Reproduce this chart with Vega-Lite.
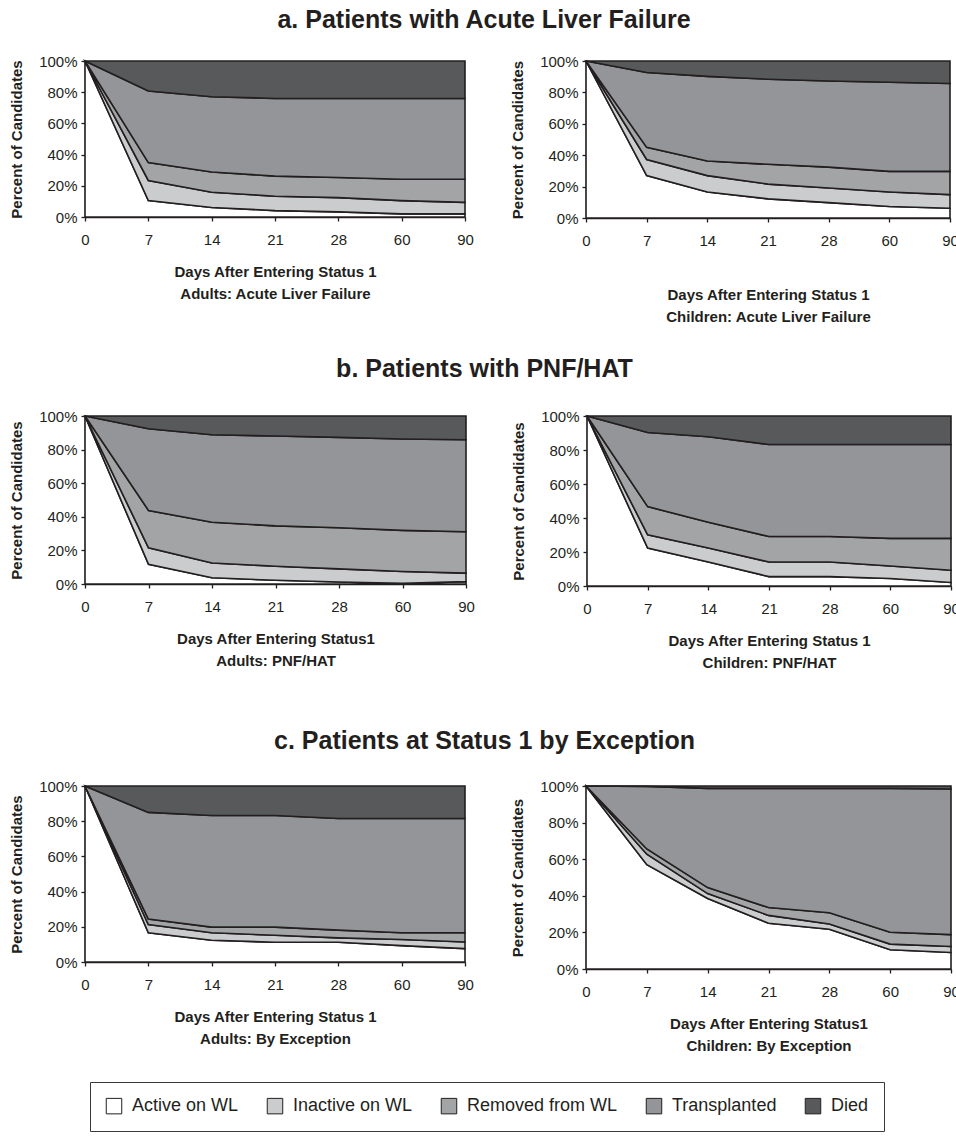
{
  "$schema": "https://vega.github.io/schema/vega-lite/v6.json",
  "background": "white",
  "padding": {"left": 9, "top": 8, "right": 0, "bottom": 0},
  "datasets": {
    "rows": [
      {"panel":"A1","day":0,"status":"Active on WL","k":1,"pct":100},
      {"panel":"A1","day":7,"status":"Active on WL","k":1,"pct":10.5},
      {"panel":"A1","day":14,"status":"Active on WL","k":1,"pct":6.1},
      {"panel":"A1","day":21,"status":"Active on WL","k":1,"pct":4.1},
      {"panel":"A1","day":28,"status":"Active on WL","k":1,"pct":3.3},
      {"panel":"A1","day":60,"status":"Active on WL","k":1,"pct":2.0},
      {"panel":"A1","day":90,"status":"Active on WL","k":1,"pct":2.0},
      {"panel":"A1","day":0,"status":"Inactive on WL","k":2,"pct":0},
      {"panel":"A1","day":7,"status":"Inactive on WL","k":2,"pct":12.9},
      {"panel":"A1","day":14,"status":"Inactive on WL","k":2,"pct":9.8},
      {"panel":"A1","day":21,"status":"Inactive on WL","k":2,"pct":9.2},
      {"panel":"A1","day":28,"status":"Inactive on WL","k":2,"pct":9.1},
      {"panel":"A1","day":60,"status":"Inactive on WL","k":2,"pct":8.5},
      {"panel":"A1","day":90,"status":"Inactive on WL","k":2,"pct":7.4},
      {"panel":"A1","day":0,"status":"Removed from WL","k":3,"pct":0},
      {"panel":"A1","day":7,"status":"Removed from WL","k":3,"pct":11.5},
      {"panel":"A1","day":14,"status":"Removed from WL","k":3,"pct":12.9},
      {"panel":"A1","day":21,"status":"Removed from WL","k":3,"pct":12.9},
      {"panel":"A1","day":28,"status":"Removed from WL","k":3,"pct":12.9},
      {"panel":"A1","day":60,"status":"Removed from WL","k":3,"pct":13.7},
      {"panel":"A1","day":90,"status":"Removed from WL","k":3,"pct":14.8},
      {"panel":"A1","day":0,"status":"Transplanted","k":4,"pct":0},
      {"panel":"A1","day":7,"status":"Transplanted","k":4,"pct":45.9},
      {"panel":"A1","day":14,"status":"Transplanted","k":4,"pct":48.3},
      {"panel":"A1","day":21,"status":"Transplanted","k":4,"pct":49.8},
      {"panel":"A1","day":28,"status":"Transplanted","k":4,"pct":50.7},
      {"panel":"A1","day":60,"status":"Transplanted","k":4,"pct":51.8},
      {"panel":"A1","day":90,"status":"Transplanted","k":4,"pct":51.8},
      {"panel":"A1","day":0,"status":"Died","k":5,"pct":0},
      {"panel":"A1","day":7,"status":"Died","k":5,"pct":19.2},
      {"panel":"A1","day":14,"status":"Died","k":5,"pct":22.9},
      {"panel":"A1","day":21,"status":"Died","k":5,"pct":24.0},
      {"panel":"A1","day":28,"status":"Died","k":5,"pct":24.0},
      {"panel":"A1","day":60,"status":"Died","k":5,"pct":24.0},
      {"panel":"A1","day":90,"status":"Died","k":5,"pct":24.0},

      {"panel":"A2","day":0,"status":"Active on WL","k":1,"pct":100},
      {"panel":"A2","day":7,"status":"Active on WL","k":1,"pct":27.0},
      {"panel":"A2","day":14,"status":"Active on WL","k":1,"pct":16.6},
      {"panel":"A2","day":21,"status":"Active on WL","k":1,"pct":12.2},
      {"panel":"A2","day":28,"status":"Active on WL","k":1,"pct":9.8},
      {"panel":"A2","day":60,"status":"Active on WL","k":1,"pct":7.3},
      {"panel":"A2","day":90,"status":"Active on WL","k":1,"pct":6.2},
      {"panel":"A2","day":0,"status":"Inactive on WL","k":2,"pct":0},
      {"panel":"A2","day":7,"status":"Inactive on WL","k":2,"pct":10.3},
      {"panel":"A2","day":14,"status":"Inactive on WL","k":2,"pct":10.4},
      {"panel":"A2","day":21,"status":"Inactive on WL","k":2,"pct":9.4},
      {"panel":"A2","day":28,"status":"Inactive on WL","k":2,"pct":9.3},
      {"panel":"A2","day":60,"status":"Inactive on WL","k":2,"pct":9.3},
      {"panel":"A2","day":90,"status":"Inactive on WL","k":2,"pct":8.7},
      {"panel":"A2","day":0,"status":"Removed from WL","k":3,"pct":0},
      {"panel":"A2","day":7,"status":"Removed from WL","k":3,"pct":7.7},
      {"panel":"A2","day":14,"status":"Removed from WL","k":3,"pct":9.3},
      {"panel":"A2","day":21,"status":"Removed from WL","k":3,"pct":12.6},
      {"panel":"A2","day":28,"status":"Removed from WL","k":3,"pct":13.3},
      {"panel":"A2","day":60,"status":"Removed from WL","k":3,"pct":13.1},
      {"panel":"A2","day":90,"status":"Removed from WL","k":3,"pct":14.8},
      {"panel":"A2","day":0,"status":"Transplanted","k":4,"pct":0},
      {"panel":"A2","day":7,"status":"Transplanted","k":4,"pct":47.7},
      {"panel":"A2","day":14,"status":"Transplanted","k":4,"pct":53.9},
      {"panel":"A2","day":21,"status":"Transplanted","k":4,"pct":54.2},
      {"panel":"A2","day":28,"status":"Transplanted","k":4,"pct":54.9},
      {"panel":"A2","day":60,"status":"Transplanted","k":4,"pct":56.8},
      {"panel":"A2","day":90,"status":"Transplanted","k":4,"pct":56.0},
      {"panel":"A2","day":0,"status":"Died","k":5,"pct":0},
      {"panel":"A2","day":7,"status":"Died","k":5,"pct":7.3},
      {"panel":"A2","day":14,"status":"Died","k":5,"pct":9.8},
      {"panel":"A2","day":21,"status":"Died","k":5,"pct":11.6},
      {"panel":"A2","day":28,"status":"Died","k":5,"pct":12.7},
      {"panel":"A2","day":60,"status":"Died","k":5,"pct":13.5},
      {"panel":"A2","day":90,"status":"Died","k":5,"pct":14.3},

      {"panel":"B1","day":0,"status":"Active on WL","k":1,"pct":100},
      {"panel":"B1","day":7,"status":"Active on WL","k":1,"pct":11.7},
      {"panel":"B1","day":14,"status":"Active on WL","k":1,"pct":3.7},
      {"panel":"B1","day":21,"status":"Active on WL","k":1,"pct":2.2},
      {"panel":"B1","day":28,"status":"Active on WL","k":1,"pct":1.2},
      {"panel":"B1","day":60,"status":"Active on WL","k":1,"pct":0.4},
      {"panel":"B1","day":90,"status":"Active on WL","k":1,"pct":1.4},
      {"panel":"B1","day":0,"status":"Inactive on WL","k":2,"pct":0},
      {"panel":"B1","day":7,"status":"Inactive on WL","k":2,"pct":9.8},
      {"panel":"B1","day":14,"status":"Inactive on WL","k":2,"pct":8.8},
      {"panel":"B1","day":21,"status":"Inactive on WL","k":2,"pct":8.4},
      {"panel":"B1","day":28,"status":"Inactive on WL","k":2,"pct":7.8},
      {"panel":"B1","day":60,"status":"Inactive on WL","k":2,"pct":7.0},
      {"panel":"B1","day":90,"status":"Inactive on WL","k":2,"pct":5.1},
      {"panel":"B1","day":0,"status":"Removed from WL","k":3,"pct":0},
      {"panel":"B1","day":7,"status":"Removed from WL","k":3,"pct":22.3},
      {"panel":"B1","day":14,"status":"Removed from WL","k":3,"pct":24.3},
      {"panel":"B1","day":21,"status":"Removed from WL","k":3,"pct":24.0},
      {"panel":"B1","day":28,"status":"Removed from WL","k":3,"pct":24.5},
      {"panel":"B1","day":60,"status":"Removed from WL","k":3,"pct":24.5},
      {"panel":"B1","day":90,"status":"Removed from WL","k":3,"pct":24.6},
      {"panel":"B1","day":0,"status":"Transplanted","k":4,"pct":0},
      {"panel":"B1","day":7,"status":"Transplanted","k":4,"pct":48.6},
      {"panel":"B1","day":14,"status":"Transplanted","k":4,"pct":52.0},
      {"panel":"B1","day":21,"status":"Transplanted","k":4,"pct":53.5},
      {"panel":"B1","day":28,"status":"Transplanted","k":4,"pct":53.8},
      {"panel":"B1","day":60,"status":"Transplanted","k":4,"pct":54.4},
      {"panel":"B1","day":90,"status":"Transplanted","k":4,"pct":54.8},
      {"panel":"B1","day":0,"status":"Died","k":5,"pct":0},
      {"panel":"B1","day":7,"status":"Died","k":5,"pct":7.6},
      {"panel":"B1","day":14,"status":"Died","k":5,"pct":11.2},
      {"panel":"B1","day":21,"status":"Died","k":5,"pct":11.9},
      {"panel":"B1","day":28,"status":"Died","k":5,"pct":12.7},
      {"panel":"B1","day":60,"status":"Died","k":5,"pct":13.7},
      {"panel":"B1","day":90,"status":"Died","k":5,"pct":14.1},

      {"panel":"B2","day":0,"status":"Active on WL","k":1,"pct":100},
      {"panel":"B2","day":7,"status":"Active on WL","k":1,"pct":22.3},
      {"panel":"B2","day":14,"status":"Active on WL","k":1,"pct":14.1},
      {"panel":"B2","day":21,"status":"Active on WL","k":1,"pct":5.5},
      {"panel":"B2","day":28,"status":"Active on WL","k":1,"pct":5.5},
      {"panel":"B2","day":60,"status":"Active on WL","k":1,"pct":4.4},
      {"panel":"B2","day":90,"status":"Active on WL","k":1,"pct":2.1},
      {"panel":"B2","day":0,"status":"Inactive on WL","k":2,"pct":0},
      {"panel":"B2","day":7,"status":"Inactive on WL","k":2,"pct":7.8},
      {"panel":"B2","day":14,"status":"Inactive on WL","k":2,"pct":8.2},
      {"panel":"B2","day":21,"status":"Inactive on WL","k":2,"pct":8.6},
      {"panel":"B2","day":28,"status":"Inactive on WL","k":2,"pct":8.6},
      {"panel":"B2","day":60,"status":"Inactive on WL","k":2,"pct":7.4},
      {"panel":"B2","day":90,"status":"Inactive on WL","k":2,"pct":7.2},
      {"panel":"B2","day":0,"status":"Removed from WL","k":3,"pct":0},
      {"panel":"B2","day":7,"status":"Removed from WL","k":3,"pct":16.6},
      {"panel":"B2","day":14,"status":"Removed from WL","k":3,"pct":15.2},
      {"panel":"B2","day":21,"status":"Removed from WL","k":3,"pct":15.0},
      {"panel":"B2","day":28,"status":"Removed from WL","k":3,"pct":15.0},
      {"panel":"B2","day":60,"status":"Removed from WL","k":3,"pct":16.2},
      {"panel":"B2","day":90,"status":"Removed from WL","k":3,"pct":18.7},
      {"panel":"B2","day":0,"status":"Transplanted","k":4,"pct":0},
      {"panel":"B2","day":7,"status":"Transplanted","k":4,"pct":43.6},
      {"panel":"B2","day":14,"status":"Transplanted","k":4,"pct":50.3},
      {"panel":"B2","day":21,"status":"Transplanted","k":4,"pct":54.1},
      {"panel":"B2","day":28,"status":"Transplanted","k":4,"pct":54.1},
      {"panel":"B2","day":60,"status":"Transplanted","k":4,"pct":55.2},
      {"panel":"B2","day":90,"status":"Transplanted","k":4,"pct":55.2},
      {"panel":"B2","day":0,"status":"Died","k":5,"pct":0},
      {"panel":"B2","day":7,"status":"Died","k":5,"pct":9.7},
      {"panel":"B2","day":14,"status":"Died","k":5,"pct":12.2},
      {"panel":"B2","day":21,"status":"Died","k":5,"pct":16.8},
      {"panel":"B2","day":28,"status":"Died","k":5,"pct":16.8},
      {"panel":"B2","day":60,"status":"Died","k":5,"pct":16.8},
      {"panel":"B2","day":90,"status":"Died","k":5,"pct":16.8},

      {"panel":"C1","day":0,"status":"Active on WL","k":1,"pct":100},
      {"panel":"C1","day":7,"status":"Active on WL","k":1,"pct":16.6},
      {"panel":"C1","day":14,"status":"Active on WL","k":1,"pct":12.4},
      {"panel":"C1","day":21,"status":"Active on WL","k":1,"pct":11.2},
      {"panel":"C1","day":28,"status":"Active on WL","k":1,"pct":11.2},
      {"panel":"C1","day":60,"status":"Active on WL","k":1,"pct":9.3},
      {"panel":"C1","day":90,"status":"Active on WL","k":1,"pct":7.6},
      {"panel":"C1","day":0,"status":"Inactive on WL","k":2,"pct":0},
      {"panel":"C1","day":7,"status":"Inactive on WL","k":2,"pct":4.7},
      {"panel":"C1","day":14,"status":"Inactive on WL","k":2,"pct":4.2},
      {"panel":"C1","day":21,"status":"Inactive on WL","k":2,"pct":4.0},
      {"panel":"C1","day":28,"status":"Inactive on WL","k":2,"pct":2.5},
      {"panel":"C1","day":60,"status":"Inactive on WL","k":2,"pct":3.5},
      {"panel":"C1","day":90,"status":"Inactive on WL","k":2,"pct":3.8},
      {"panel":"C1","day":0,"status":"Removed from WL","k":3,"pct":0},
      {"panel":"C1","day":7,"status":"Removed from WL","k":3,"pct":3.1},
      {"panel":"C1","day":14,"status":"Removed from WL","k":3,"pct":3.2},
      {"panel":"C1","day":21,"status":"Removed from WL","k":3,"pct":4.6},
      {"panel":"C1","day":28,"status":"Removed from WL","k":3,"pct":4.4},
      {"panel":"C1","day":60,"status":"Removed from WL","k":3,"pct":3.8},
      {"panel":"C1","day":90,"status":"Removed from WL","k":3,"pct":5.2},
      {"panel":"C1","day":0,"status":"Transplanted","k":4,"pct":0},
      {"panel":"C1","day":7,"status":"Transplanted","k":4,"pct":60.6},
      {"panel":"C1","day":14,"status":"Transplanted","k":4,"pct":63.4},
      {"panel":"C1","day":21,"status":"Transplanted","k":4,"pct":63.4},
      {"panel":"C1","day":28,"status":"Transplanted","k":4,"pct":63.4},
      {"panel":"C1","day":60,"status":"Transplanted","k":4,"pct":64.9},
      {"panel":"C1","day":90,"status":"Transplanted","k":4,"pct":64.9},
      {"panel":"C1","day":0,"status":"Died","k":5,"pct":0},
      {"panel":"C1","day":7,"status":"Died","k":5,"pct":15.0},
      {"panel":"C1","day":14,"status":"Died","k":5,"pct":16.8},
      {"panel":"C1","day":21,"status":"Died","k":5,"pct":16.8},
      {"panel":"C1","day":28,"status":"Died","k":5,"pct":18.5},
      {"panel":"C1","day":60,"status":"Died","k":5,"pct":18.5},
      {"panel":"C1","day":90,"status":"Died","k":5,"pct":18.5},

      {"panel":"C2","day":0,"status":"Active on WL","k":1,"pct":100},
      {"panel":"C2","day":7,"status":"Active on WL","k":1,"pct":57.0},
      {"panel":"C2","day":14,"status":"Active on WL","k":1,"pct":38.5},
      {"panel":"C2","day":21,"status":"Active on WL","k":1,"pct":25.0},
      {"panel":"C2","day":28,"status":"Active on WL","k":1,"pct":21.7},
      {"panel":"C2","day":60,"status":"Active on WL","k":1,"pct":10.5},
      {"panel":"C2","day":90,"status":"Active on WL","k":1,"pct":9.0},
      {"panel":"C2","day":0,"status":"Inactive on WL","k":2,"pct":0},
      {"panel":"C2","day":7,"status":"Inactive on WL","k":2,"pct":5.7},
      {"panel":"C2","day":14,"status":"Inactive on WL","k":2,"pct":2.7},
      {"panel":"C2","day":21,"status":"Inactive on WL","k":2,"pct":4.3},
      {"panel":"C2","day":28,"status":"Inactive on WL","k":2,"pct":2.9},
      {"panel":"C2","day":60,"status":"Inactive on WL","k":2,"pct":3.1},
      {"panel":"C2","day":90,"status":"Inactive on WL","k":2,"pct":3.3},
      {"panel":"C2","day":0,"status":"Removed from WL","k":3,"pct":0},
      {"panel":"C2","day":7,"status":"Removed from WL","k":3,"pct":2.9},
      {"panel":"C2","day":14,"status":"Removed from WL","k":3,"pct":3.3},
      {"panel":"C2","day":21,"status":"Removed from WL","k":3,"pct":4.3},
      {"panel":"C2","day":28,"status":"Removed from WL","k":3,"pct":6.1},
      {"panel":"C2","day":60,"status":"Removed from WL","k":3,"pct":6.5},
      {"panel":"C2","day":90,"status":"Removed from WL","k":3,"pct":6.5},
      {"panel":"C2","day":0,"status":"Transplanted","k":4,"pct":0},
      {"panel":"C2","day":7,"status":"Transplanted","k":4,"pct":34.2},
      {"panel":"C2","day":14,"status":"Transplanted","k":4,"pct":54.2},
      {"panel":"C2","day":21,"status":"Transplanted","k":4,"pct":65.1},
      {"panel":"C2","day":28,"status":"Transplanted","k":4,"pct":68.0},
      {"panel":"C2","day":60,"status":"Transplanted","k":4,"pct":78.6},
      {"panel":"C2","day":90,"status":"Transplanted","k":4,"pct":79.6},
      {"panel":"C2","day":0,"status":"Died","k":5,"pct":0},
      {"panel":"C2","day":7,"status":"Died","k":5,"pct":0.2},
      {"panel":"C2","day":14,"status":"Died","k":5,"pct":1.3},
      {"panel":"C2","day":21,"status":"Died","k":5,"pct":1.3},
      {"panel":"C2","day":28,"status":"Died","k":5,"pct":1.3},
      {"panel":"C2","day":60,"status":"Died","k":5,"pct":1.3},
      {"panel":"C2","day":90,"status":"Died","k":5,"pct":1.6}
    ]
  },
  "data": {"name": "rows"},
  "spacing": 59,
  "vconcat": [
    {
      "spacing": 33,
      "vconcat": [
        {
          "title": {"text": "a. Patients with Acute Liver Failure", "offset": 21},
          "spacing": 36,
          "hconcat": [
            {
              "width": 380, "height": 156,
              "transform": [{"filter": "datum.panel === 'A1'"}],
              "mark": {"type": "area", "stroke": "#231f20", "strokeWidth": 1.6},
              "encoding": {
                "x": {"field": "day", "type": "ordinal", "scale": {"type": "point", "padding": 0}, "axis": {"title": ["Days After Entering Status 1", "Adults: Acute Liver Failure"]}},
                "y": {"field": "pct", "type": "quantitative", "stack": "zero", "scale": {"domain": [0, 100]}, "axis": {"title": "Percent of Candidates", "values": [0, 20, 40, 60, 80, 100], "labelExpr": "datum.value + '%'"}},
                "color": {"field": "status", "type": "nominal", "scale": {"domain": ["Active on WL", "Inactive on WL", "Removed from WL", "Transplanted", "Died"], "range": ["#ffffff", "#cbcccd", "#a3a4a6", "#939598", "#58595b"]}, "legend": {"orient": "none", "legendX": 5, "legendY": 1021, "direction": "horizontal", "title": null, "encode": {"symbols": {"update": {"fill": {"value": {"expr": "datum.value === 'Died' ? '#231f20' : scale('color', datum.value)"}}, "fillOpacity": {"value": 1}, "stroke": {"value": "#231f20"}}}}}},
                "order": {"field": "k", "type": "quantitative"}
              }
            },
            {
              "width": 364, "height": 157,
              "transform": [{"filter": "datum.panel === 'A2'"}],
              "mark": {"type": "area", "stroke": "#231f20", "strokeWidth": 1.6},
              "encoding": {
                "x": {"field": "day", "type": "ordinal", "scale": {"type": "point", "padding": 0}, "axis": {"title": ["Days After Entering Status 1", "Children: Acute Liver Failure"], "titlePadding": 39}},
                "y": {"field": "pct", "type": "quantitative", "stack": "zero", "scale": {"domain": [0, 100]}, "axis": {"title": "Percent of Candidates", "values": [0, 20, 40, 60, 80, 100], "labelExpr": "datum.value + '%'"}},
                "color": {"field": "status", "type": "nominal", "scale": {"domain": ["Active on WL", "Inactive on WL", "Removed from WL", "Transplanted", "Died"], "range": ["#ffffff", "#cbcccd", "#a3a4a6", "#939598", "#58595b"]}, "legend": {"orient": "none", "legendX": 5, "legendY": 1021, "direction": "horizontal", "title": null, "encode": {"symbols": {"update": {"fill": {"value": {"expr": "datum.value === 'Died' ? '#231f20' : scale('color', datum.value)"}}, "fillOpacity": {"value": 1}, "stroke": {"value": "#231f20"}}}}}},
                "order": {"field": "k", "type": "quantitative"}
              }
            }
          ]
        },
        {
          "title": {"text": "b. Patients with PNF/HAT", "offset": 27},
          "spacing": 36,
          "hconcat": [
            {
              "width": 381, "height": 168,
              "transform": [{"filter": "datum.panel === 'B1'"}],
              "mark": {"type": "area", "stroke": "#231f20", "strokeWidth": 1.6},
              "encoding": {
                "x": {"field": "day", "type": "ordinal", "scale": {"type": "point", "padding": 0}, "axis": {"title": ["Days After Entering Status1", "Adults: PNF/HAT"]}},
                "y": {"field": "pct", "type": "quantitative", "stack": "zero", "scale": {"domain": [0, 100]}, "axis": {"title": "Percent of Candidates", "values": [0, 20, 40, 60, 80, 100], "labelExpr": "datum.value + '%'"}},
                "color": {"field": "status", "type": "nominal", "scale": {"domain": ["Active on WL", "Inactive on WL", "Removed from WL", "Transplanted", "Died"], "range": ["#ffffff", "#cbcccd", "#a3a4a6", "#939598", "#58595b"]}, "legend": {"orient": "none", "legendX": 5, "legendY": 1021, "direction": "horizontal", "title": null, "encode": {"symbols": {"update": {"fill": {"value": {"expr": "datum.value === 'Died' ? '#231f20' : scale('color', datum.value)"}}, "fillOpacity": {"value": 1}, "stroke": {"value": "#231f20"}}}}}},
                "order": {"field": "k", "type": "quantitative"}
              }
            },
            {
              "width": 364, "height": 170,
              "transform": [{"filter": "datum.panel === 'B2'"}],
              "mark": {"type": "area", "stroke": "#231f20", "strokeWidth": 1.6},
              "encoding": {
                "x": {"field": "day", "type": "ordinal", "scale": {"type": "point", "padding": 0}, "axis": {"title": ["Days After Entering Status 1", "Children: PNF/HAT"]}},
                "y": {"field": "pct", "type": "quantitative", "stack": "zero", "scale": {"domain": [0, 100]}, "axis": {"title": "Percent of Candidates", "values": [0, 20, 40, 60, 80, 100], "labelExpr": "datum.value + '%'"}},
                "color": {"field": "status", "type": "nominal", "scale": {"domain": ["Active on WL", "Inactive on WL", "Removed from WL", "Transplanted", "Died"], "range": ["#ffffff", "#cbcccd", "#a3a4a6", "#939598", "#58595b"]}, "legend": {"orient": "none", "legendX": 5, "legendY": 1021, "direction": "horizontal", "title": null, "encode": {"symbols": {"update": {"fill": {"value": {"expr": "datum.value === 'Died' ? '#231f20' : scale('color', datum.value)"}}, "fillOpacity": {"value": 1}, "stroke": {"value": "#231f20"}}}}}},
                "order": {"field": "k", "type": "quantitative"}
              }
            }
          ]
        }
      ]
    },
    {
      "title": {"text": "c. Patients at Status 1 by Exception", "offset": 25},
      "spacing": 36,
      "hconcat": [
        {
          "width": 380, "height": 176,
          "transform": [{"filter": "datum.panel === 'C1'"}],
          "mark": {"type": "area", "stroke": "#231f20", "strokeWidth": 1.6},
          "encoding": {
            "x": {"field": "day", "type": "ordinal", "scale": {"type": "point", "padding": 0}, "axis": {"title": ["Days After Entering Status 1", "Adults: By Exception"]}},
            "y": {"field": "pct", "type": "quantitative", "stack": "zero", "scale": {"domain": [0, 100]}, "axis": {"title": "Percent of Candidates", "values": [0, 20, 40, 60, 80, 100], "labelExpr": "datum.value + '%'"}},
            "color": {"field": "status", "type": "nominal", "scale": {"domain": ["Active on WL", "Inactive on WL", "Removed from WL", "Transplanted", "Died"], "range": ["#ffffff", "#cbcccd", "#a3a4a6", "#939598", "#58595b"]}, "legend": {"orient": "none", "legendX": 5, "legendY": 1021, "direction": "horizontal", "title": null, "encode": {"symbols": {"update": {"fill": {"value": {"expr": "datum.value === 'Died' ? '#231f20' : scale('color', datum.value)"}}, "fillOpacity": {"value": 1}, "stroke": {"value": "#231f20"}}}}}},
            "order": {"field": "k", "type": "quantitative"}
          }
        },
        {
          "width": 365, "height": 183,
          "transform": [{"filter": "datum.panel === 'C2'"}],
          "mark": {"type": "area", "stroke": "#231f20", "strokeWidth": 1.6},
          "encoding": {
            "x": {"field": "day", "type": "ordinal", "scale": {"type": "point", "padding": 0}, "axis": {"title": ["Days After Entering Status1", "Children: By Exception"]}},
            "y": {"field": "pct", "type": "quantitative", "stack": "zero", "scale": {"domain": [0, 100]}, "axis": {"title": "Percent of Candidates", "values": [0, 20, 40, 60, 80, 100], "labelExpr": "datum.value + '%'"}},
            "color": {"field": "status", "type": "nominal", "scale": {"domain": ["Active on WL", "Inactive on WL", "Removed from WL", "Transplanted", "Died"], "range": ["#ffffff", "#cbcccd", "#a3a4a6", "#939598", "#58595b"]}, "legend": {"orient": "none", "legendX": 5, "legendY": 1021, "direction": "horizontal", "title": null, "encode": {"symbols": {"update": {"fill": {"value": {"expr": "datum.value === 'Died' ? '#231f20' : scale('color', datum.value)"}}, "fillOpacity": {"value": 1}, "stroke": {"value": "#231f20"}}}}}},
            "order": {"field": "k", "type": "quantitative"}
          }
        }
      ]
    }
  ],
  "config": {
    "font": "Liberation Sans",
    "view": {"stroke": null},
    "axis": {
      "grid": false,
      "domainColor": "#231f20", "domainWidth": 1.3,
      "tickColor": "#231f20", "tickWidth": 1.3, "tickSize": 4,
      "labelColor": "#231f20", "labelFont": "Liberation Sans", "labelFontSize": 15,
      "titleColor": "#231f20", "titleFont": "Liberation Sans", "titleFontSize": 15, "titleFontWeight": "bold"
    },
    "axisX": {"labelAngle": 0, "labelPadding": 11, "titlePadding": 17, "titleLineHeight": 22},
    "axisY": {"labelPadding": 4, "titlePadding": 14},
    "title": {"font": "Liberation Sans", "fontSize": 25, "fontWeight": "bold", "color": "#231f20", "anchor": "middle"},
    "legend": {
      "strokeColor": "#3a3a3a", "padding": 15, "fillColor": "white",
      "symbolType": "square", "symbolSize": 240, "symbolStrokeWidth": 1, "symbolStrokeColor": "#231f20",
      "labelFont": "Liberation Sans", "labelFontSize": 18, "labelColor": "#231f20", "labelOffset": 9,
      "columnPadding": 26, "labelLimit": 300
    }
  }
}
